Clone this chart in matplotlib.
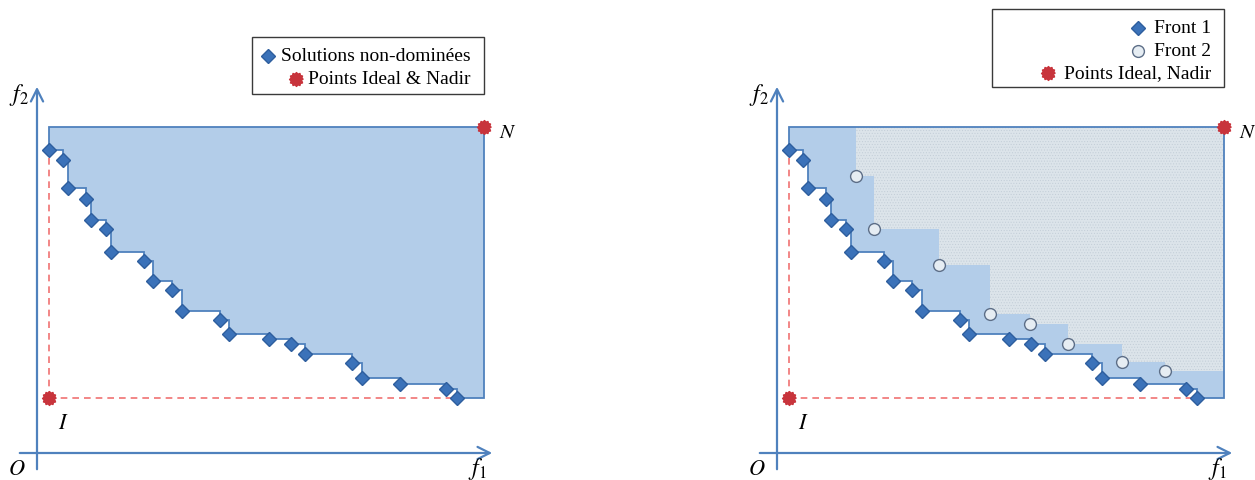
import matplotlib.pyplot as plt
import numpy as np
from matplotlib.patches import Polygon, Rectangle
from matplotlib.path import Path
from matplotlib.lines import Line2D

W, H = 1255, 481

# Front 1 (solutions non-dominées), objectifs f1 / f2
front1_f1 = [12, 26, 31, 49, 54, 69, 74, 107, 116, 135, 145, 183, 192, 232, 254, 268, 315, 325, 363, 409, 420]
front1_f2 = [303, 293, 265, 254, 233, 224, 201, 192, 172, 163, 142, 133, 119, 114, 109, 99, 90, 75, 69, 64, 55]

# Front 2
front2_f1 = [79, 97, 162, 213, 253, 291, 345, 388]
front2_f2 = [277, 224, 188, 139, 129, 109, 91, 82]

# Points Ideal / Nadir
ideal = (12, 55)
nadir = (447, 326)

legend_left = ["Solutions non-dominées", "Points Ideal & Nadir"]
legend_right = ["Front 1", "Front 2", "Points Ideal, Nadir"]

AXIS_BLUE = '#4f81bd'
FILL_BLUE = '#b3cde9'
DOT_FILL = '#dce4ea'
DIAMOND = '#3b72b9'
RED = '#c8343c'
DASH_RED = '#f07272'

plt.rcParams['mathtext.fontset'] = 'stix'
plt.rcParams['hatch.linewidth'] = 0.4

# marqueur "étoile" rouge (petite rosace)
n = 24
ang = np.linspace(0, 2 * np.pi, n, endpoint=False)
rad = np.where(np.arange(n) % 2 == 0, 1.0, 0.8)
burst = Path(np.column_stack([rad * np.cos(ang), rad * np.sin(ang)]))


def staircase(f1, f2, right, top):
    pts = [(f1[0], top)]
    for i in range(len(f1)):
        nxt = f1[i + 1] if i + 1 < len(f1) else right
        pts.append((f1[i], f2[i]))
        pts.append((nxt, f2[i]))
    pts.append((right, top))
    return pts


fig = plt.figure(figsize=(W / 100, H / 100), dpi=100)


def fp(x, y):
    return x / W, 1 - y / H


def panel(x0, width, with_front2):
    ax = fig.add_axes([x0 / W, 0, width / W, 1])
    ax.set_xlim(-37, width - 37)
    ax.set_ylim(-27, 454)
    ax.axis('off')

    # axes f1 / f2
    ax.annotate('', xy=(458, 0), xytext=(-20, 0),
                arrowprops=dict(arrowstyle='->', color=AXIS_BLUE, lw=1.6, mutation_scale=22))
    ax.annotate('', xy=(0, 369), xytext=(0, -19),
                arrowprops=dict(arrowstyle='->', color=AXIS_BLUE, lw=1.6, mutation_scale=22))

    # zone dominée par le front 1
    ax.add_patch(Polygon(staircase(front1_f1, front1_f2, nadir[0], nadir[1]),
                         closed=True, facecolor=FILL_BLUE, edgecolor='none', zorder=1))
    if with_front2:
        ax.add_patch(Polygon(staircase(front2_f1, front2_f2, nadir[0], nadir[1]),
                             closed=True, facecolor=DOT_FILL, edgecolor='#c2cdd7',
                             hatch='......', linewidth=0, zorder=2))
    ax.add_patch(Polygon(staircase(front1_f1, front1_f2, nadir[0], nadir[1]),
                         closed=True, fill=False, edgecolor=AXIS_BLUE, lw=1.3, zorder=3))

    # pointillés vers le point idéal
    ax.plot([ideal[0], ideal[0]], [ideal[1], front1_f2[0]], ls=(0, (4, 3)), color=DASH_RED, lw=1.2, zorder=3)
    ax.plot([ideal[0], front1_f1[-1]], [ideal[1], ideal[1]], ls=(0, (4, 3)), color=DASH_RED, lw=1.2, zorder=3)

    ax.plot(front1_f1, front1_f2, 'D', color=DIAMOND, markeredgecolor='#2e5e9e',
            markersize=7, zorder=5)
    if with_front2:
        ax.plot(front2_f1, front2_f2, 'o', markerfacecolor='#e6edf3', markeredgecolor='#5d6e87',
                markeredgewidth=1, markersize=8.5, zorder=5)
    ax.plot([ideal[0], nadir[0]], [ideal[1], nadir[1]], ls='none', marker=burst,
            color=RED, markersize=10, zorder=6)

    # étiquettes
    ax.text(-18, 359, '$f_2$', fontsize=17, ha='center', va='center')
    ax.text(440, -15, '$f_1$', fontsize=17, ha='center', va='center')
    ax.text(-20, -15, '$O$', fontsize=16, ha='center', va='center')
    ax.text(26, 31, '$I$', fontsize=16, ha='center', va='center')
    ax.text(462, 322, '$N$', fontsize=15, ha='left', va='center')
    return ax


panel(0, 540, False)
panel(740, 515, True)

# légendes
LEG_FONT = dict(family='Liberation Serif', fontsize=14, ha='right', va='center')


def legend_box(x0, y0, x1, y1, labels, ys, text_right, markers, gap):
    fig.patches.append(Rectangle(fp(x0, y1), (x1 - x0) / W, (y1 - y0) / H,
                                 transform=fig.transFigure, facecolor='white',
                                 edgecolor='#3a3a3a', lw=1, zorder=0))
    texts = [fig.text(*fp(text_right, y), lab, **LEG_FONT) for lab, y in zip(labels, ys)]
    fig.canvas.draw()
    for t, y, mk in zip(texts, ys, markers):
        bb = t.get_window_extent()
        xm = bb.x0 - gap
        fig.add_artist(Line2D([xm / W], [1 - y / H], transform=fig.transFigure, ls='none', **mk))


mk_diamond = dict(marker='D', color=DIAMOND, markeredgecolor='#2e5e9e', markersize=7)
mk_circle = dict(marker='o', markerfacecolor='#e6edf3', markeredgecolor='#5d6e87', markeredgewidth=1, markersize=8.5)
mk_red = dict(marker=burst, color=RED, markersize=10)

legend_box(252, 38, 484, 95, legend_left, [57, 80], 471, [mk_diamond, mk_red], 13)
legend_box(992, 10, 1224, 88, legend_right, [29, 52, 74], 1211, [mk_diamond, mk_circle, mk_red], 16)

fig.savefig('out.png', dpi=100)
